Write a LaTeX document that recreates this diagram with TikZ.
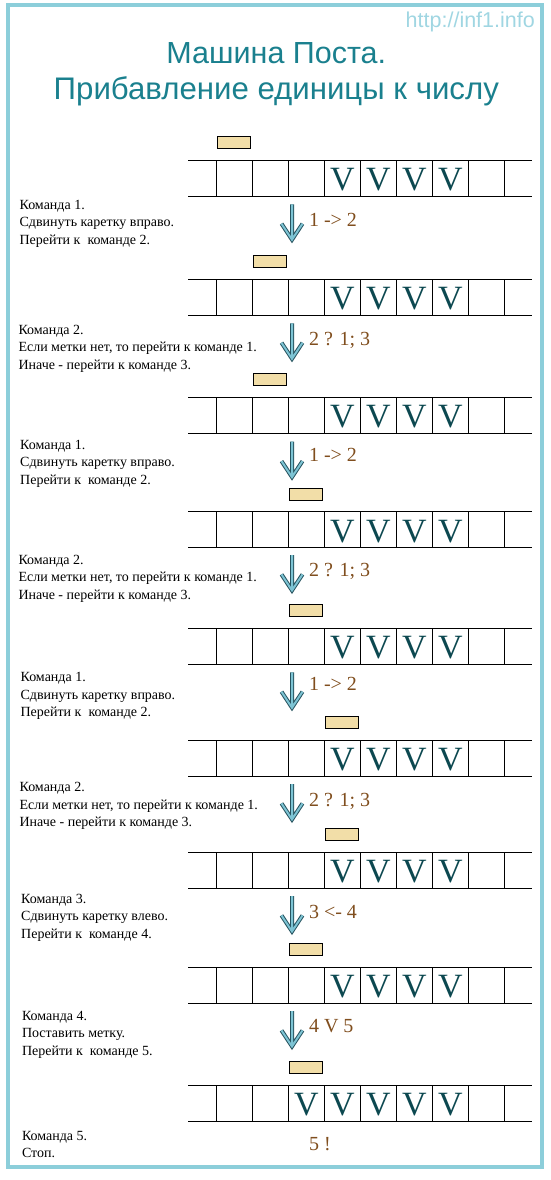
\documentclass[tikz,border=0pt]{standalone}
\usepackage{fontspec}
\usepackage{xcolor}
\setmainfont{Liberation Serif}
\newfontfamily\titlefont{Liberation Sans}
\definecolor{frameblue}{RGB}{140,206,218}
\definecolor{titleteal}{RGB}{26,128,142}
\definecolor{urlblue}{RGB}{160,214,226}
\definecolor{markteal}{RGB}{12,72,80}
\definecolor{stepbrown}{RGB}{128,78,30}
\definecolor{headfill}{RGB}{242,222,168}
\definecolor{arrowfill}{RGB}{125,196,212}
\definecolor{arrowline}{RGB}{40,84,96}

\begin{document}
\begin{tikzpicture}[x=1pt, y=-1pt,
    head/.style={rectangle, draw, fill=headfill, line width=0.9pt, minimum width=33pt, minimum height=12pt, inner sep=0pt},
    markv/.style={anchor=base, inner sep=0pt, text=markteal, font=\fontsize{34}{34}\selectfont},
    steplabel/.style={anchor=base west, inner sep=0pt, text=stepbrown, font=\fontsize{20}{20}\selectfont},
    cmdtext/.style={anchor=base west, inner sep=0pt, font=\fontsize{14}{17.6}\selectfont},
    steparrow/.style={draw=arrowline, line width=1pt, double=arrowfill, double distance=2pt, line join=miter},
    tapeline/.style={line width=1.2pt}]
    \useasboundingbox (0,0) rectangle (550,1180);

    % Frame and titles
    \draw[frameblue, line width=4pt] (7.5,5.5) rectangle (541.5,1166.5);
    \node (url) at (535,27.3) [anchor=base east, inner sep=0pt, text=urlblue, font=\titlefont\fontsize{21.5}{21.5}\selectfont] {http://inf1.info};
    \node (title1) at (276.3,63.3) [anchor=base, inner sep=0pt, text=titleteal, font=\titlefont\fontsize{30.5}{30.5}\selectfont] {Машина Поста.};
    \node (title2) at (276.3,100) [anchor=base, inner sep=0pt, text=titleteal, font=\titlefont\fontsize{31.2}{31.2}\selectfont] {Прибавление единицы к числу};

    % Draw tapes
    \foreach \t in {160.3,279.3,397.3,511.7,628.3,740.3,852.3,967.3,1085.3} {
        \draw[tapeline] (188.3,\t) -- (531.7,\t);
        \draw[tapeline] (188.3,\t+36) -- (531.7,\t+36);
        \foreach \x in {216.3,252.3,288.3,324.3,360.3,396.3,432.3,468.3,504.3}
            \draw[tapeline] (\x,\t) -- (\x,\t+36);
    }

    % Marks on the tapes
    \foreach \t [count=\i] in {160.3,279.3,397.3,511.7,628.3,740.3,852.3,967.3}
        \foreach \x [count=\j] in {342.3,378.3,414.3,450.3}
            \node[markv] (v\i-\j) at (\x,\t+30.4) {V};
    \foreach \x [count=\j] in {306.3,342.3,378.3,414.3,450.3}
        \node[markv] (v9-\j) at (\x,1115.7) {V};

    % Draw carriage
    \node[head] (h1) at (234.3,142.8) {};
    \node[head] (h2) at (270.3,261.8) {};
    \node[head] (h3) at (270.3,379.8) {};
    \node[head] (h4) at (306.3,494) {};
    \node[head] (h5) at (306.3,610.4) {};
    \node[head] (h6) at (342.3,722.6) {};
    \node[head] (h7) at (342.3,834.4) {};
    \node[head] (h8) at (306.3,949.4) {};
    \node[head] (h9) at (306.3,1067.6) {};

    % Step arrows
    \foreach \a [count=\i] in {204.3,323.3,441.7,555,672.3,784,896,1011} {
        \coordinate (s\i) at (292,\a);
        \coordinate (e\i) at (292,\a+35.4);
        \draw[steparrow] (s\i) -- (e\i) ([shift={(-10.5,-16)}]e\i) -- (e\i) -- ([shift={(10.5,-16)}]e\i);
    }

    % Step labels
    \node[steplabel] (l1) at (308.8,226) {1 -> 2};
    \node[steplabel] (l2) at (308.8,345.2) {2 ? 1; 3};
    \node[steplabel] (l3) at (308.8,461.4) {1 -> 2};
    \node[steplabel] (l4) at (308.8,576.4) {2 ? 1; 3};
    \node[steplabel] (l5) at (308.8,690.8) {1 -> 2};
    \node[steplabel] (l6) at (308.8,806.4) {2 ? 1; 3};
    \node[steplabel] (l7) at (308.8,918.3) {3 <- 4};
    \node[steplabel] (l8) at (308.8,1032.7) {4 V 5};
    \node[steplabel] (l9) at (308.8,1150.7) {5 !};

    % Commands
    \node[cmdtext] (c1) at (19.4,209) {\begin{tabular}[t]{@{}l@{}}Команда 1.\\Сдвинуть каретку вправо.\\Перейти к\ \ команде 2.\end{tabular}};
    \node[cmdtext] (c2) at (18.3,334) {\begin{tabular}[t]{@{}l@{}}Команда 2.\\Если метки нет, то перейти к команде 1.\\Иначе - перейти к команде 3.\end{tabular}};
    \node[cmdtext] (c3) at (20,449) {\begin{tabular}[t]{@{}l@{}}Команда 1.\\Сдвинуть каретку вправо.\\Перейти к\ \ команде 2.\end{tabular}};
    \node[cmdtext] (c4) at (18.3,564.1) {\begin{tabular}[t]{@{}l@{}}Команда 2.\\Если метки нет, то перейти к команде 1.\\Иначе - перейти к команде 3.\end{tabular}};
    \node[cmdtext] (c5) at (20.4,681.7) {\begin{tabular}[t]{@{}l@{}}Команда 1.\\Сдвинуть каретку вправо.\\Перейти к\ \ команде 2.\end{tabular}};
    \node[cmdtext] (c6) at (19.4,791.7) {\begin{tabular}[t]{@{}l@{}}Команда 2.\\Если метки нет, то перейти к команде 1.\\Иначе - перейти к команде 3.\end{tabular}};
    \node[cmdtext] (c7) at (21,903.3) {\begin{tabular}[t]{@{}l@{}}Команда 3.\\Сдвинуть каретку влево.\\Перейти к\ \ команде 4.\end{tabular}};
    \node[cmdtext] (c8) at (21.8,1020) {\begin{tabular}[t]{@{}l@{}}Команда 4.\\Поставить метку.\\Перейти к\ \ команде 5.\end{tabular}};
    \node[cmdtext] (c9) at (21.8,1140) {\begin{tabular}[t]{@{}l@{}}Команда 5.\\Стоп.\end{tabular}};
\end{tikzpicture}
\end{document}
